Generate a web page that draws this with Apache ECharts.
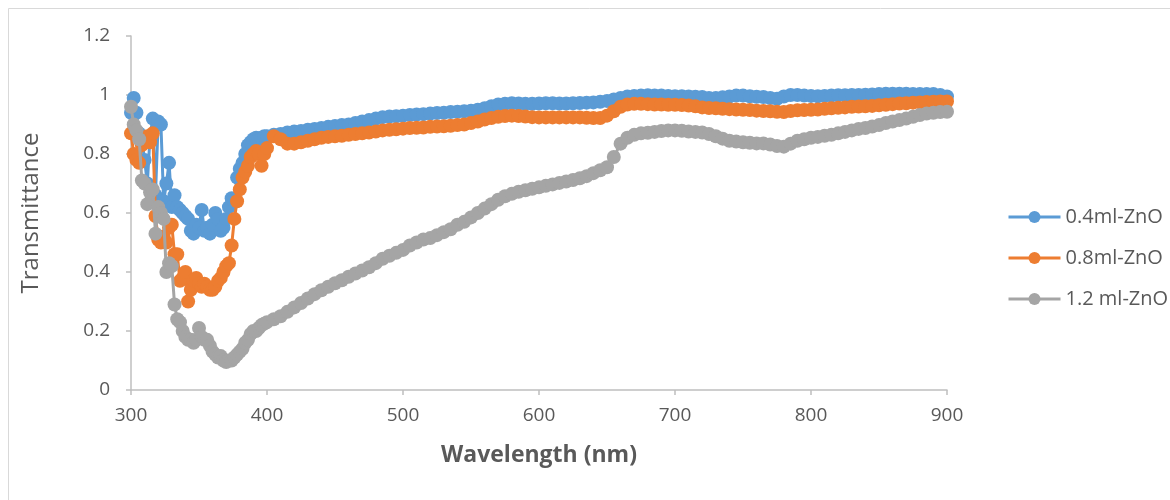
<!DOCTYPE html>
<html>
<head>
<meta charset="utf-8">
<style>
  html, body { margin: 0; padding: 0; background: #ffffff; }
  #chart { width: 1170px; height: 500px; }
</style>
<script src="https://cdn.jsdelivr.net/npm/echarts@6/dist/echarts.min.js"></script>
</head>
<body>
<div id="chart"></div>
<script>
// Sampling wavelengths (nm): 2 nm steps across the absorption edge, 5 nm steps above 400 nm
const wavelengths = [
  300, 302, 304, 306, 308, 310, 312, 314, 316, 318,
  320, 322, 324, 326, 328, 330, 332, 334, 336, 338,
  340, 342, 344, 346, 348, 350, 352, 354, 356, 358,
  360, 362, 364, 366, 368, 370, 372, 374, 376, 378,
  380, 382, 384, 386, 388, 390, 392, 394, 396, 398,
  400, 405, 410, 415, 420, 425, 430, 435, 440, 445,
  450, 455, 460, 465, 470, 475, 480, 485, 490, 495,
  500, 505, 510, 515, 520, 525, 530, 535, 540, 545,
  550, 555, 560, 565, 570, 575, 580, 585, 590, 595,
  600, 605, 610, 615, 620, 625, 630, 635, 640, 645,
  650, 655, 660, 665, 670, 675, 680, 685, 690, 695,
  700, 705, 710, 715, 720, 725, 730, 735, 740, 745,
  750, 755, 760, 765, 770, 775, 780, 785, 790, 795,
  800, 805, 810, 815, 820, 825, 830, 835, 840, 845,
  850, 855, 860, 865, 870, 875, 880, 885, 890, 895,
  900
];

// Transmittance, 0.4 ml ZnO
const t04 = [
  0.94, 0.99, 0.94, 0.87, 0.85, 0.78, 0.70, 0.86, 0.92, 0.66,
  0.91, 0.90, 0.64, 0.70, 0.77, 0.62, 0.66, 0.62, 0.61, 0.60,
  0.59, 0.58, 0.54, 0.53, 0.56, 0.55, 0.61, 0.54, 0.55, 0.53,
  0.56, 0.60, 0.58, 0.54, 0.55, 0.58, 0.62, 0.65, 0.64, 0.72,
  0.75, 0.77, 0.80, 0.83, 0.84, 0.85, 0.855, 0.85, 0.855, 0.86,
  0.86, 0.865, 0.868, 0.873, 0.876, 0.878, 0.882, 0.885, 0.888, 0.892,
  0.895, 0.898, 0.90, 0.905, 0.91, 0.915, 0.92, 0.925, 0.927, 0.928,
  0.93, 0.932, 0.934, 0.935, 0.937, 0.939, 0.94, 0.942, 0.943, 0.945,
  0.947, 0.95, 0.955, 0.962, 0.968, 0.97, 0.972, 0.971, 0.97, 0.97,
  0.971, 0.972, 0.972, 0.971, 0.971, 0.972, 0.973, 0.974, 0.975, 0.977,
  0.98, 0.985, 0.99, 0.995, 0.997, 0.998, 0.999, 0.998, 0.998, 0.997,
  0.996, 0.996, 0.995, 0.994, 0.993, 0.99, 0.99, 0.992, 0.995, 0.998,
  0.998, 0.996, 0.994, 0.993, 0.99, 0.987, 0.995, 1.0, 1.0, 0.998,
  0.997, 0.996, 0.997, 0.998, 0.999, 0.999, 1.0, 1.0, 1.001, 1.002,
  1.003, 1.004, 1.004, 1.004, 1.004, 1.003, 1.003, 1.003, 1.003, 1.0,
  0.995
];

// Transmittance, 0.8 ml ZnO
const t08 = [
  0.87, 0.80, 0.78, 0.77, 0.83, 0.85, 0.86, 0.84, 0.87, 0.59,
  0.51, 0.50, 0.52, 0.50, 0.55, 0.56, 0.46, 0.46, 0.37, 0.38,
  0.40, 0.30, 0.34, 0.37, 0.38, 0.36, 0.35, 0.36, 0.35, 0.34,
  0.34, 0.35, 0.37, 0.38, 0.40, 0.42, 0.43, 0.49, 0.58, 0.64,
  0.68, 0.72, 0.74, 0.76, 0.79, 0.80, 0.81, 0.80, 0.76, 0.80,
  0.82, 0.86, 0.85, 0.835, 0.835, 0.84, 0.845, 0.85, 0.855, 0.858,
  0.86, 0.862, 0.865, 0.868, 0.87, 0.873, 0.876, 0.88, 0.882, 0.884,
  0.886, 0.888, 0.889, 0.89, 0.892, 0.893, 0.894, 0.896, 0.898, 0.90,
  0.905, 0.91, 0.917, 0.922, 0.926, 0.929, 0.93, 0.929, 0.927, 0.925,
  0.924, 0.924, 0.924, 0.924, 0.924, 0.924, 0.924, 0.923, 0.922, 0.922,
  0.93, 0.945, 0.96, 0.968, 0.97, 0.97, 0.969, 0.968, 0.968, 0.967,
  0.967, 0.966, 0.964, 0.962, 0.958, 0.956, 0.955, 0.953, 0.952, 0.951,
  0.95, 0.949, 0.947, 0.946, 0.945, 0.943, 0.942, 0.946, 0.948, 0.949,
  0.95, 0.951, 0.953, 0.955, 0.957, 0.958, 0.96, 0.961, 0.962, 0.963,
  0.965, 0.967, 0.969, 0.971, 0.972, 0.974, 0.975, 0.976, 0.977, 0.978,
  0.978
];

// Transmittance, 1.2 ml ZnO
const t12 = [
  0.96, 0.90, 0.88, 0.85, 0.71, 0.70, 0.63, 0.67, 0.68, 0.53,
  0.62, 0.60, 0.58, 0.40, 0.43, 0.42, 0.29, 0.24, 0.23, 0.20,
  0.18, 0.17, 0.17, 0.16, 0.17, 0.21, 0.18, 0.17, 0.17, 0.15,
  0.13, 0.12, 0.11, 0.115, 0.10, 0.095, 0.10, 0.10, 0.11, 0.12,
  0.13, 0.14, 0.16, 0.17, 0.19, 0.20, 0.20, 0.21, 0.22, 0.225,
  0.23, 0.24, 0.25, 0.265, 0.28, 0.295, 0.31, 0.325, 0.338, 0.35,
  0.362, 0.372, 0.384, 0.395, 0.405, 0.416, 0.43, 0.445, 0.455, 0.465,
  0.475, 0.49, 0.50, 0.51, 0.515, 0.525, 0.535, 0.545, 0.56, 0.57,
  0.585, 0.60, 0.615, 0.63, 0.645, 0.657, 0.665, 0.672, 0.677, 0.682,
  0.687, 0.692, 0.697, 0.702, 0.707, 0.712, 0.718, 0.725, 0.735, 0.745,
  0.755, 0.79, 0.835, 0.855, 0.865, 0.87, 0.872, 0.875, 0.878, 0.88,
  0.88, 0.879, 0.876, 0.875, 0.873, 0.868, 0.86, 0.852, 0.845, 0.842,
  0.84, 0.838, 0.836, 0.836, 0.832, 0.827, 0.825, 0.835, 0.845, 0.85,
  0.855, 0.858, 0.862, 0.865, 0.87, 0.875, 0.88, 0.885, 0.888, 0.893,
  0.898, 0.905, 0.91, 0.915, 0.92, 0.926, 0.932, 0.937, 0.94, 0.942,
  0.943
];

const seriesNames = ['0.4ml-ZnO', '0.8ml-ZnO', '1.2 ml-ZnO'];
const seriesColors = ['#5B9BD5', '#ED7D31', '#A5A5A5'];
const seriesValues = [t04, t08, t12];

const FONT = '"Open Sans", "Noto Sans", sans-serif';
const TEXT_COLOR = '#595959';
const AXIS_COLOR = '#BFBFBF';

function pairs(values) {
  return wavelengths.map((w, i) => [w, values[i]]);
}

const chart = echarts.init(document.getElementById('chart'), null, { renderer: 'canvas' });

chart.setOption({
  animation: false,
  backgroundColor: '#ffffff',
  textStyle: { fontFamily: FONT },
  graphic: [{
    type: 'rect',
    shape: { x: 8.5, y: 8.5, width: 1180, height: 520 },
    style: { fill: 'none', stroke: '#D9D9D9', lineWidth: 1 },
    silent: true
  }],
  grid: { left: 131, right: 223, top: 36, bottom: 110, containLabel: false },
  legend: {
    orient: 'vertical',
    left: 1002,
    top: 202,
    itemWidth: 52,
    itemHeight: 15,
    itemGap: 21,
    selectedMode: false,
    data: seriesNames,
    lineStyle: { width: 3 },
    textStyle: { fontFamily: FONT, fontSize: 20, color: TEXT_COLOR, lineHeight: 20 }
  },
  xAxis: {
    type: 'value',
    min: 300,
    max: 900,
    interval: 100,
    name: 'Wavelength (nm)',
    nameLocation: 'middle',
    nameGap: 54,
    nameTextStyle: { fontFamily: FONT, fontSize: 23, fontWeight: 'bold', color: TEXT_COLOR },
    axisLine: { show: true, lineStyle: { color: AXIS_COLOR, width: 1.5 } },
    axisTick: { show: true, length: 5, lineStyle: { color: AXIS_COLOR, width: 1.5 } },
    axisLabel: { fontFamily: FONT, fontSize: 19, color: TEXT_COLOR, margin: 16 },
    splitLine: { show: false }
  },
  yAxis: {
    type: 'value',
    min: 0,
    max: 1.2,
    interval: 0.2,
    name: 'Transmittance',
    nameLocation: 'middle',
    nameGap: 88,
    nameTextStyle: { fontFamily: FONT, fontSize: 24, color: TEXT_COLOR },
    axisLine: { show: true, lineStyle: { color: AXIS_COLOR, width: 1.5 } },
    axisTick: { show: true, length: 5, lineStyle: { color: AXIS_COLOR, width: 1.5 } },
    axisLabel: { fontFamily: FONT, fontSize: 19, color: TEXT_COLOR, margin: 21 },
    splitLine: { show: false }
  },
  series: seriesNames.map((name, i) => ({
    name: name,
    type: 'line',
    data: pairs(seriesValues[i]),
    symbol: 'circle',
    symbolSize: 14,
    showAllSymbol: true,
    lineStyle: { color: seriesColors[i], width: 3 },
    itemStyle: { color: seriesColors[i] },
    z: 2 + i
  }))
});
</script>
</body>
</html>
